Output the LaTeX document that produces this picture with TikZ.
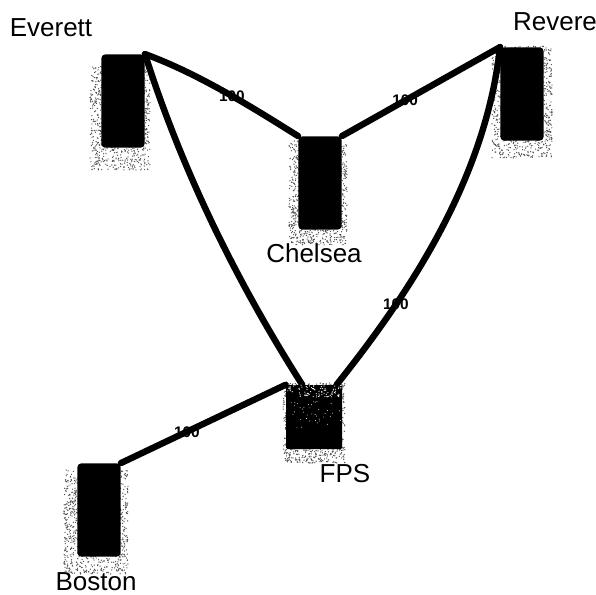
\documentclass[tikz,border=0pt]{standalone}
\usepackage{fontspec}
\setmainfont{Liberation Sans}
\usetikzlibrary{positioning}
\usetikzlibrary{calc}
\usetikzlibrary{backgrounds}

\begin{document}
\begin{tikzpicture}[
x=0.75pt, y=-0.75pt,
routernode/.style={rectangle, fill=black, inner sep=0pt},
towernode/.style={routernode, minimum width=32.5pt, minimum height=70pt, rounded corners=3pt},
hubnode/.style={routernode, minimum width=42pt, minimum height=48pt, rounded corners=1pt},
namenode/.style={font=\fontsize{19.5}{21}\selectfont, inner sep=0pt},
costnode/.style={font=\fontsize{11.5}{13}\selectfont\bfseries, inner sep=0pt},
linkline/.style={line width=4.8pt, line cap=round},
speck/.style={fill=black!70},
]
\useasboundingbox (0,0) rectangle (596,595);
\pgfmathsetseed{7}

%Nodes
\node[towernode]   (everett)  at (123,101)  {};
\node[towernode]   (chelsea)  at (320,183)  {};
\node[towernode]   (revere)   at (522,94)   {};
\node[hubnode]     (fps)      at (314,417)  {};
\node[towernode]   (boston)   at (99,510)   {};

\node[namenode]    (everettname)  at (51,28)   {Everett};
\node[namenode]    (chelseaname)  at (314,253) {Chelsea};
\node[namenode]    (reverename)   at (555,22)  {Revere};
\node[namenode]    (fpsname)      at (345,474) {FPS};
\node[namenode]    (bostonname)   at (96,582)  {Boston};

%Lines
\draw[linkline] (everett.north east) .. controls +(55,20) and +(-40,-25) .. (chelsea.north west) node[pos=0.53, costnode] (cost1) {100};
\draw[linkline] (everett.north east) .. controls +(35,110) and +(-70,-110) .. (fps.110);
\draw[linkline] (chelsea.north east) -- (revere.north west) node[pos=0.4, costnode] (cost2) {100};
\draw[linkline] (revere.north west) .. controls +(-15,135) and +(70,-88) .. (fps.55) node[pos=0.72, costnode] (cost3) {100};
\draw[linkline] (boston.north east) -- (fps.north west) node[pos=0.4, costnode] (cost4) {100};

%Haze
\begin{pgfonlayer}{background}
\foreach \router/\dx/\dy/\hw/\hh in {everett/-3/17/30/52, chelsea/-2/10/29/52, revere/0/8/30/56, fps/0/6/31/40, boston/-3/12/32/52} {
    \foreach \i in {1,...,1100} {
        \fill[speck] ($(\router)+({\dx+\hw*rand},{\dy+\hh*rand})$) circle (0.5pt);
    }
}
\end{pgfonlayer}
\foreach \i in {1,...,90} {
    \fill[white] ($(fps)+({27*rand},{-26+6*rand})$) circle (0.45pt);
}
\foreach \i in {1,...,40} {
    \fill[white] ($(fps)+({27*rand},{-4+16*rand})$) circle (0.35pt);
}
\end{tikzpicture}
\end{document}
